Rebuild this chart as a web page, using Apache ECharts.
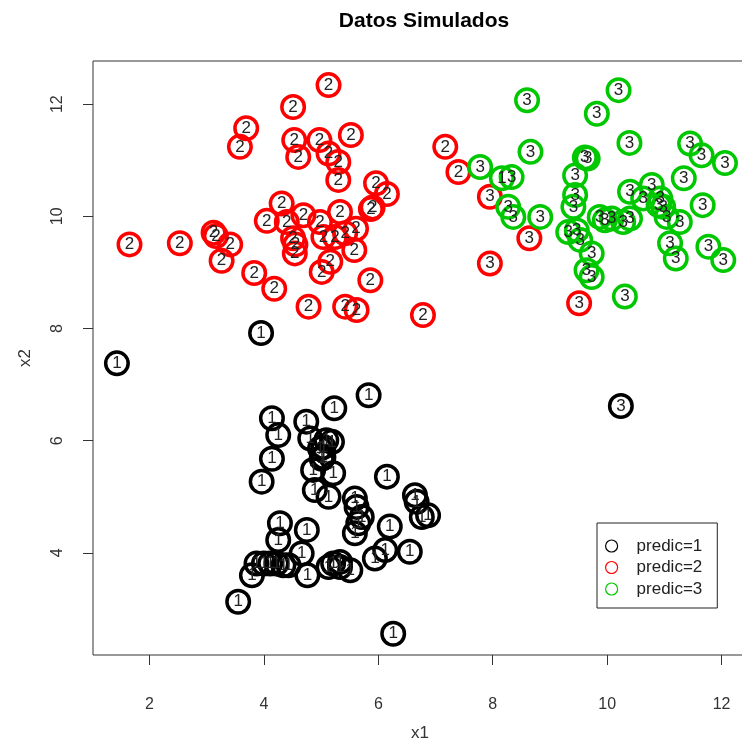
<!DOCTYPE html>
<html>
<head>
<meta charset="utf-8">
<script src="https://cdn.jsdelivr.net/npm/echarts@6/dist/echarts.min.js"></script>
<style>
html,body{margin:0;padding:0;background:#fff;}
#chart{width:742px;height:745px;}
</style>
</head>
<body>
<div id="chart"></div>
<script>
// [x1, x2, actual label] grouped by predicted cluster
const predic1 = [
  [1.43,7.38,1],[3.95,7.92,1],
  [4.14,6.40,1],[4.25,6.10,1],[4.14,5.68,1],[3.96,5.27,1],
  [4.74,6.34,1],[4.81,6.04,1],[5.09,6.01,1],[4.98,5.86,1],[5.04,5.71,1],[5.19,5.98,1],
  [5.04,5.89,1],[5.01,5.68,1],
  [4.86,5.48,1],[5.21,5.42,1],[4.89,5.12,1],[5.13,5.00,1],
  [5.23,6.58,1],[5.83,6.81,1],
  [4.28,4.53,1],[4.25,4.23,1],[4.75,4.41,1],[4.66,3.99,1],
  [3.87,3.81,1],[4.00,3.81,1],[4.11,3.81,1],[4.22,3.81,1],[4.34,3.78,1],[4.43,3.78,1],
  [3.79,3.60,1],[4.76,3.60,1],[3.55,3.13,1],
  [5.21,3.81,1],[5.13,3.75,1],[5.33,3.75,1],[5.51,3.69,1],[5.33,3.84,1],
  [6.15,5.36,1],[6.64,5.03,1],[6.67,4.91,1],[6.76,4.64,1],[6.87,4.67,1],
  [5.59,4.97,1],[5.62,4.82,1],[5.71,4.64,1],[5.65,4.53,1],[5.59,4.35,1],
  [6.20,4.47,1],[6.12,4.05,1],[5.94,3.90,1],[6.55,4.02,1],
  [6.26,2.56,1],[10.24,6.62,3]
];
const predic2 = [
  [1.65,9.50,2],[2.53,9.52,2],[3.12,9.71,2],[3.16,9.65,2],[3.41,9.50,2],[3.26,9.21,2],
  [3.83,8.99,2],[4.18,8.71,2],[3.69,11.57,2],[3.58,11.24,2],
  [4.31,10.23,2],[4.05,9.92,2],[4.40,9.90,2],[4.51,11.95,2],
  [5.13,12.34,2],[4.53,11.36,2],[4.60,11.06,2],[4.97,11.36,2],[5.13,11.12,2],[5.30,10.97,2],[5.30,10.65,2],[5.52,11.45,2],
  [5.96,10.59,2],[6.15,10.40,2],[5.90,10.16,2],[5.87,10.13,2],
  [5.33,10.08,2],[4.69,10.02,2],[4.98,9.90,2],
  [4.51,9.61,2],[4.54,9.34,2],[4.55,9.50,2],[5.04,9.63,2],[5.24,9.63,2],[5.42,9.70,2],[5.61,9.78,2],[5.58,9.40,2],
  [5.16,9.19,2],[5.01,9.01,2],[5.86,8.86,2],
  [4.78,8.39,2],[5.42,8.39,2],[5.62,8.33,2],[6.78,8.24,2],
  [7.17,11.24,2],[7.40,10.79,2],
  [7.95,10.35,3],[8.64,9.61,3],[7.95,9.16,3],[9.51,8.45,3]
];
const predic3 = [
  [7.78,10.88,3],[8.16,10.68,1],[8.33,10.70,3],
  [8.27,10.17,3],[8.36,9.99,3],[8.83,9.99,3],
  [8.60,12.07,3],[8.66,11.15,3],[9.82,11.83,3],[10.20,12.25,3],
  [9.61,11.05,3],[9.66,11.03,3],[9.44,10.73,3],[9.44,10.38,3],[9.41,10.17,3],
  [9.32,9.72,3],[9.47,9.75,3],[9.53,9.58,3],
  [9.73,9.34,3],[9.64,9.04,3],[9.73,8.92,3],
  [10.39,11.31,3],[11.45,11.30,3],[11.65,11.09,3],[12.06,10.95,3],[11.34,10.68,3],
  [10.40,10.44,3],[10.78,10.56,3],[10.63,10.32,3],[10.93,10.32,3],[10.90,10.20,3],[10.98,10.17,3],[11.04,9.99,3],
  [11.27,9.90,3],[11.67,10.20,3],
  [9.87,9.99,3],[9.96,9.93,3],[10.08,9.96,3],[10.28,9.90,3],[10.40,9.96,3],
  [11.10,9.52,3],[11.20,9.25,3],[11.77,9.46,3],[12.03,9.22,3],[10.31,8.57,3]
];
// labels drawn without a visible circle
const loneLabels = [[4.14,10.38,2],[4.53,5.53,1],[10.00,11.15,3]];

const seriesNames = ['predic=1','predic=2','predic=3'];
const seriesColors = ['#000000','#ff0000','#00c800'];
const xTicks = [2,4,6,8,10,12];
const yTicks = [4,6,8,10,12];

const FONT = '"Liberation Sans", Arial, sans-serif';
const chart = echarts.init(document.getElementById('chart'), null, {renderer:'canvas'});

function pointSeries(name, data, color){
  return {
    name: name,
    type: 'scatter',
    data: data,
    symbol: 'circle',
    symbolSize: 22.5,
    itemStyle: {color: 'rgba(0,0,0,0)', borderColor: color, borderWidth: 3.5, opacity: 1},
    label: {
      show: true, position: 'inside',
      formatter: p => String(p.value[2]),
      color: '#222', fontSize: 17, fontFamily: FONT
    },
    emphasis: {disabled: true},
    animation: false
  };
}

const option = {
  backgroundColor: '#fff',
  animation: false,
  title: {
    text: 'Datos Simulados',
    left: 419, top: 6, textAlign: 'center',
    textStyle: {fontSize: 21, fontWeight: 'bold', color: '#000', fontFamily: FONT}
  },
  legend: {
    orient: 'vertical',
    left: 597, top: 523,
    data: seriesNames.map((n,i)=>({name:n, icon:'circle',
      itemStyle:{color:'rgba(0,0,0,0)', borderColor: seriesColors[i], borderWidth: 1.2}})),
    itemWidth: 12, itemHeight: 12, itemGap: 4.5,
    padding: [14.5, 15, 10.5, 8],
    backgroundColor: '#fff', borderColor: '#222', borderWidth: 1, borderRadius: 0,
    textStyle: {fontSize: 17, lineHeight: 17, color: '#222', fontFamily: FONT, padding: [0,0,0,14]},
    selectedMode: false
  },
  grid: {
    left: 93, top: 61, width: 654, height: 594,
    outerBoundsMode: 'none', containLabel: false,
    show: true, borderColor: '#333', borderWidth: 1, backgroundColor: 'transparent'
  },
  xAxis: {
    type: 'value', min: 1.012, max: 12.445,
    name: 'x1', nameLocation: 'middle', nameGap: 70,
    nameTextStyle: {fontSize: 17, color: '#333', fontFamily: FONT},
    axisLine: {show: false},
    splitLine: {show: false},
    axisTick: {show: true, length: 10, customValues: xTicks, lineStyle: {color: '#333'}},
    axisLabel: {customValues: xTicks, margin: 42, fontSize: 16, color: '#333', fontFamily: FONT}
  },
  yAxis: {
    type: 'value', min: 2.18, max: 12.77,
    name: 'x2', nameLocation: 'middle', nameGap: 59, nameRotate: 90,
    nameTextStyle: {fontSize: 17, color: '#333', fontFamily: FONT},
    axisLine: {show: false},
    splitLine: {show: false},
    axisTick: {show: true, length: 10, customValues: yTicks, lineStyle: {color: '#333'}},
    axisLabel: {customValues: yTicks, rotate: 90, margin: 27, fontSize: 16, color: '#333', fontFamily: FONT}
  },
  series: [
    pointSeries(seriesNames[0], predic1, seriesColors[0]),
    pointSeries(seriesNames[1], predic2, seriesColors[1]),
    pointSeries(seriesNames[2], predic3, seriesColors[2]),
    {
      name: 'texto', type: 'scatter', data: loneLabels, symbolSize: 1,
      itemStyle: {opacity: 0},
      label: {show: true, position: 'inside', formatter: p => String(p.value[2]),
        color: '#222', fontSize: 17, fontFamily: FONT},
      emphasis: {disabled: true}, animation: false
    }
  ]
};
chart.setOption(option);
</script>
</body>
</html>
